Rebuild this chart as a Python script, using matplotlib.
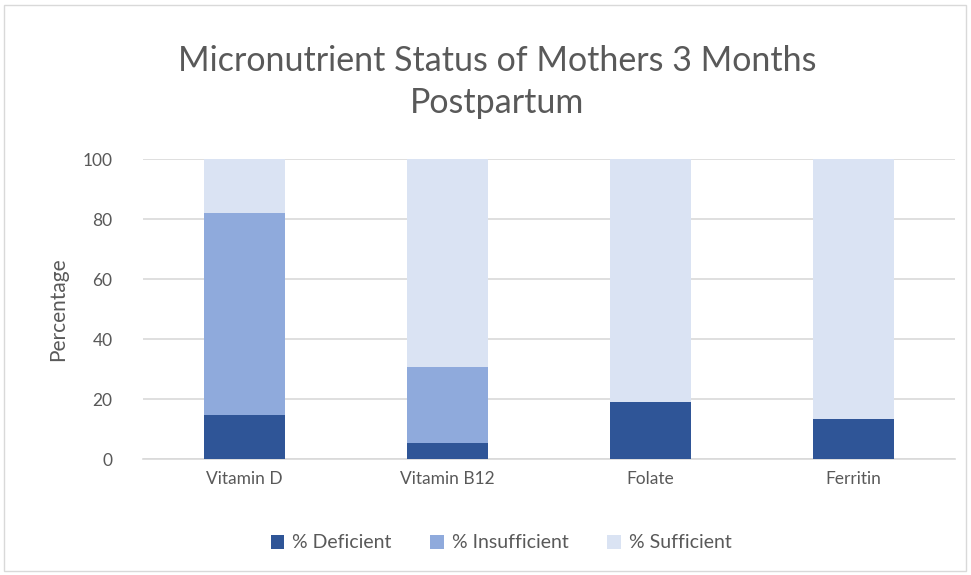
import matplotlib
matplotlib.use("Agg")
import matplotlib.pyplot as plt
from matplotlib.patches import Rectangle
import numpy as np

# data
nutrients = ["Vitamin D", "Vitamin B12", "Folate", "Ferritin"]
deficient = [14.7, 5.2, 19.0, 13.2]
insufficient = [67.3, 25.5, 0.0, 0.0]
sufficient = [18.0, 69.3, 81.0, 86.8]
series_names = ["% Deficient", "% Insufficient", "% Sufficient"]
colors = ["#2F5597", "#8FAADC", "#DAE3F3"]

plt.rcParams["font.family"] = ["Lato", "DejaVu Sans"]
text_color = "#595959"
grid_color = "#D9D9D9"

fig = plt.figure(figsize=(9.71, 5.75), dpi=100)
ax = fig.add_axes([143 / 971, 116 / 575, 812 / 971, 300 / 575])

x = np.arange(len(nutrients))
bottom = np.zeros(len(nutrients))
for name, vals, c in zip(series_names, [deficient, insufficient, sufficient], colors):
    ax.bar(x, vals, width=0.4, bottom=bottom, color=c, label=name, zorder=3)
    bottom += np.array(vals)

ax.set_xlim(-0.5, len(nutrients) - 0.5)
ax.set_ylim(0, 100)
ax.set_yticks(range(0, 101, 20))
ax.set_xticks(x)
ax.set_xticklabels(nutrients)
ax.tick_params(axis="both", length=0, labelsize=12.5, colors=text_color)
ax.tick_params(axis="y", pad=22)
ax.tick_params(axis="x", pad=9)
ax.grid(axis="y", color=grid_color, linewidth=1.2, zorder=0)
for s in ["top", "right", "left"]:
    ax.spines[s].set_visible(False)
ax.spines["bottom"].set_color(grid_color)
ax.spines["bottom"].set_linewidth(1.2)

ax.set_ylabel("Percentage", fontsize=15, color=text_color, labelpad=10)

fig.text(497 / 971, 1 - 82 / 575, "Micronutrient Status of Mothers 3 Months\nPostpartum",
         ha="center", va="center", fontsize=24.5, color=text_color, linespacing=1.35)

ax.legend(loc="center", bbox_to_anchor=(501 / 971, 1 - 543 / 575),
          bbox_transform=fig.transFigure, ncol=3, frameon=False, fontsize=14,
          labelcolor=text_color, handlelength=0.7, handleheight=0.7,
          handletextpad=0.4, columnspacing=2.0)

# outer chart border
fig.patches.append(Rectangle((4 / 971, 4 / 575), 962 / 971, 566 / 575,
                             transform=fig.transFigure, fill=False,
                             edgecolor=grid_color, linewidth=1))

fig.savefig("out.png", dpi=100)
